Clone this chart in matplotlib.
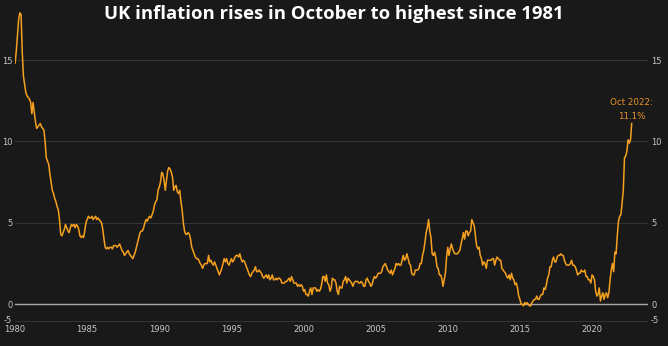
import matplotlib
matplotlib.use("Agg")
import matplotlib.pyplot as plt
import matplotlib.transforms as mtransforms
import numpy as np

# UK CPI annual rate, monthly from Jan 1980 to Oct 2022 (%)
cpi_by_year = {
    1980: [14.8, 15.5, 16.5, 17.5, 17.9, 17.8, 15.5, 14.0, 13.5, 13.0, 12.8, 12.7],
    1981: [12.6, 12.4, 11.7, 12.4, 11.8, 11.2, 10.8, 10.9, 11.0, 11.1, 10.9, 10.8],
    1982: [10.7, 10.0, 9.0, 8.8, 8.6, 8.0, 7.5, 7.0, 6.8, 6.5, 6.3, 6.0],
    1983: [5.8, 5.2, 4.3, 4.2, 4.4, 4.6, 4.9, 4.7, 4.5, 4.4, 4.7, 4.9],
    1984: [4.8, 4.9, 4.7, 4.9, 4.8, 4.6, 4.2, 4.1, 4.2, 4.1, 4.5, 5.0],
    1985: [5.2, 5.4, 5.3, 5.3, 5.4, 5.2, 5.3, 5.4, 5.2, 5.3, 5.2, 5.1],
    1986: [5.0, 4.6, 4.0, 3.5, 3.4, 3.5, 3.4, 3.5, 3.5, 3.4, 3.6, 3.6],
    1987: [3.6, 3.5, 3.6, 3.7, 3.5, 3.3, 3.2, 3.0, 3.1, 3.2, 3.3, 3.1],
    1988: [3.0, 2.9, 2.8, 3.0, 3.2, 3.5, 3.8, 4.1, 4.4, 4.5, 4.5, 4.7],
    1989: [5.0, 5.2, 5.1, 5.3, 5.4, 5.3, 5.5, 5.7, 6.1, 6.3, 6.4, 7.0],
    1990: [7.2, 7.5, 8.1, 8.0, 7.6, 7.0, 7.6, 8.2, 8.4, 8.3, 8.1, 7.8],
    1991: [7.0, 7.2, 7.3, 6.9, 6.8, 7.0, 6.3, 5.8, 5.0, 4.5, 4.3, 4.3],
    1992: [4.4, 4.3, 4.0, 3.5, 3.3, 3.1, 2.9, 2.8, 2.8, 2.7, 2.5, 2.4],
    1993: [2.2, 2.4, 2.5, 2.5, 2.5, 3.0, 2.6, 2.7, 2.5, 2.4, 2.6, 2.4],
    1994: [2.2, 2.0, 1.8, 2.0, 2.2, 2.5, 2.8, 2.6, 2.8, 2.5, 2.4, 2.6],
    1995: [2.8, 2.6, 2.7, 2.9, 3.0, 3.0, 2.9, 3.1, 2.8, 2.6, 2.7, 2.6],
    1996: [2.4, 2.2, 2.0, 1.8, 1.7, 1.9, 2.0, 2.1, 2.3, 2.0, 2.0, 2.1],
    1997: [2.0, 1.9, 1.7, 1.6, 1.7, 1.8, 1.6, 1.8, 1.5, 1.6, 1.8, 1.5],
    1998: [1.5, 1.6, 1.5, 1.6, 1.6, 1.5, 1.3, 1.3, 1.3, 1.4, 1.4, 1.5],
    1999: [1.6, 1.4, 1.7, 1.5, 1.3, 1.3, 1.3, 1.1, 1.2, 1.1, 1.2, 1.1],
    2000: [0.8, 0.9, 0.6, 0.6, 0.5, 0.8, 1.0, 0.6, 1.0, 1.0, 1.0, 0.8],
    2001: [0.9, 0.8, 0.9, 1.2, 1.7, 1.7, 1.4, 1.8, 1.3, 1.2, 0.8, 1.0],
    2002: [1.6, 1.5, 1.5, 1.3, 0.8, 0.6, 1.1, 1.0, 1.0, 1.4, 1.5, 1.7],
    2003: [1.3, 1.6, 1.5, 1.4, 1.3, 1.1, 1.3, 1.4, 1.4, 1.4, 1.3, 1.3],
    2004: [1.4, 1.3, 1.1, 1.1, 1.5, 1.6, 1.4, 1.3, 1.1, 1.2, 1.5, 1.7],
    2005: [1.6, 1.7, 1.9, 1.9, 1.9, 2.0, 2.3, 2.4, 2.5, 2.3, 2.1, 2.0],
    2006: [1.9, 2.1, 1.8, 2.0, 2.2, 2.5, 2.4, 2.5, 2.4, 2.4, 2.7, 3.0],
    2007: [2.7, 2.8, 3.1, 2.8, 2.5, 2.4, 1.9, 1.8, 1.8, 2.1, 2.1, 2.1],
    2008: [2.2, 2.5, 2.5, 3.0, 3.3, 3.8, 4.4, 4.7, 5.2, 4.5, 4.1, 3.1],
    2009: [3.0, 3.2, 2.9, 2.3, 2.2, 1.8, 1.8, 1.6, 1.1, 1.5, 1.9, 2.9],
    2010: [3.5, 3.0, 3.4, 3.7, 3.4, 3.2, 3.1, 3.1, 3.1, 3.2, 3.3, 3.7],
    2011: [4.0, 4.4, 4.0, 4.5, 4.5, 4.2, 4.4, 4.5, 5.2, 5.0, 4.8, 4.2],
    2012: [3.6, 3.4, 3.5, 3.0, 2.8, 2.4, 2.6, 2.5, 2.2, 2.7, 2.7, 2.7],
    2013: [2.7, 2.8, 2.8, 2.4, 2.7, 2.9, 2.8, 2.7, 2.7, 2.2, 2.1, 2.0],
    2014: [1.9, 1.7, 1.6, 1.8, 1.5, 1.9, 1.6, 1.5, 1.2, 1.3, 1.0, 0.5],
    2015: [0.3, 0.0, 0.0, -0.1, 0.1, 0.0, 0.1, 0.0, -0.1, -0.1, 0.1, 0.2],
    2016: [0.3, 0.3, 0.5, 0.3, 0.3, 0.5, 0.6, 0.6, 1.0, 0.9, 1.2, 1.6],
    2017: [1.8, 2.3, 2.3, 2.7, 2.9, 2.6, 2.6, 2.9, 3.0, 3.0, 3.1, 3.0],
    2018: [3.0, 2.7, 2.5, 2.4, 2.4, 2.4, 2.5, 2.7, 2.4, 2.4, 2.3, 2.1],
    2019: [1.8, 1.9, 1.9, 2.1, 2.0, 2.0, 2.1, 1.7, 1.7, 1.5, 1.5, 1.3],
    2020: [1.8, 1.7, 1.5, 0.8, 0.5, 0.6, 1.0, 0.2, 0.5, 0.7, 0.3, 0.6],
    2021: [0.7, 0.4, 0.7, 1.5, 2.1, 2.5, 2.0, 3.2, 3.1, 4.2, 5.1, 5.4],
    2022: [5.5, 6.2, 7.0, 9.0, 9.1, 9.4, 10.1, 9.9, 10.1, 11.1],
}

y_ticks = [0, 5, 10, 15]
x_ticks = [1980, 1985, 1990, 1995, 2000, 2005, 2010, 2015, 2020]

dates = []
values = []
for yr, vals in cpi_by_year.items():
    for m, v in enumerate(vals):
        dates.append(yr + m / 12)
        values.append(v)

bg = "#191919"
orange = "#f5a01e"
txt = "#c8c8c8"

fig = plt.figure(figsize=(6.68, 3.46), dpi=100, facecolor=bg)
ax = fig.add_axes([0.0225, 0.069, 0.948, 0.908])
ax.set_facecolor(bg)

y_bottom = -1.1
ax.set_xlim(1980, 2023.9)
ax.set_ylim(y_bottom, 18.2)

for y in y_ticks[1:]:
    ax.axhline(y, color="#333333", lw=0.8, zorder=1)
ax.axhline(y_bottom, color="#3a3a3a", lw=1.2, zorder=1)
ax.axhline(0, color="#a8a8a8", lw=1.0, zorder=2)

ax.plot(dates, values, color=orange, lw=1.1, zorder=3)

ax.annotate("Oct 2022:\n11.1%", xy=(dates[-1], values[-1]), xytext=(0, 2),
            textcoords="offset points", ha="center", va="bottom",
            color="#e8922a", fontsize=6.3, linespacing=1.7)

for s in ax.spines.values():
    s.set_visible(False)

ax.set_xticks(x_ticks)
ax.set_xticklabels([str(x) for x in x_ticks])
ax.set_yticks([y_bottom] + y_ticks)
ax.set_yticklabels(["-5"] + [str(y) for y in y_ticks])
ax.tick_params(axis="both", length=0, colors=txt, labelsize=6)
ax.tick_params(axis="x", pad=2)
ax.tick_params(axis="y", pad=2, labelright=True)

# lift the "-5" labels a little so they clear the year labels
lift = mtransforms.ScaledTranslation(0, 2.5 / 100, fig.dpi_scale_trans)
for tick in ax.yaxis.get_major_ticks()[:1]:
    tick.label1.set_transform(tick.label1.get_transform() + lift)
    tick.label2.set_transform(tick.label2.get_transform() + lift)

fig.text(0.5, 0.96, "UK inflation rises in October to highest since 1981",
         ha="center", va="center", color="white", fontsize=13.3,
         fontweight="bold", family="Open Sans")

fig.savefig("out.png", dpi=100, facecolor=bg)
